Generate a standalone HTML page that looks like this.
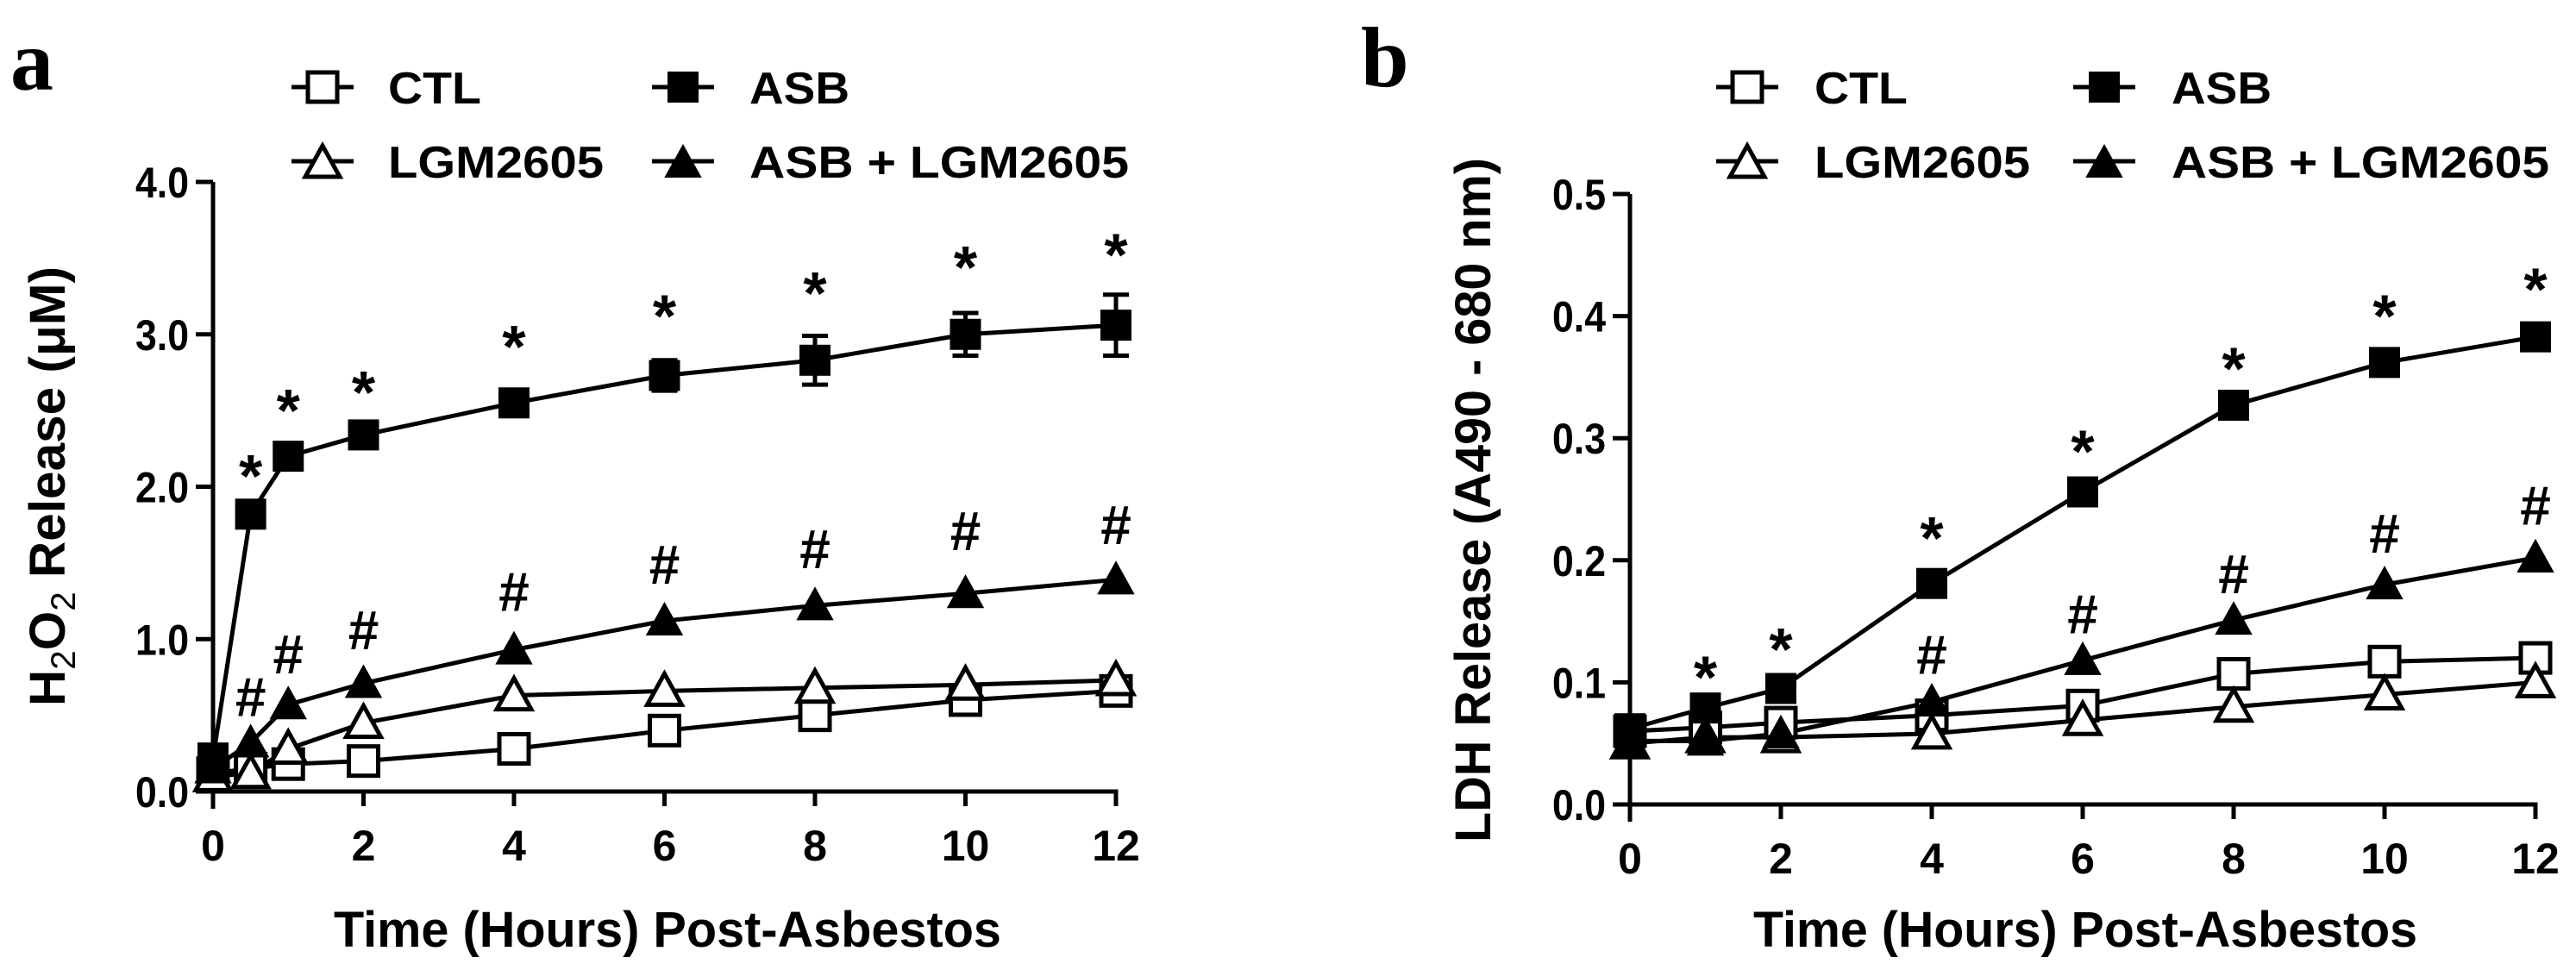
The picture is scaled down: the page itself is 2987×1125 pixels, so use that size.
<!DOCTYPE html>
<html><head><meta charset="utf-8"><style>
html,body{margin:0;padding:0;background:#fff;}
svg{display:block;font-family:"Liberation Sans",Arial,sans-serif;font-weight:bold;}
</style></head><body>
<svg id="chart" width="2987" height="1125" viewBox="0 0 2987 1125" xmlns="http://www.w3.org/2000/svg">
<rect width="2987" height="1125" fill="#fff"/>
<text x="12" y="104" font-family="Liberation Serif,serif" font-size="100" font-weight="bold">a</text>
<text x="1578" y="100" font-family="Liberation Serif,serif" font-size="100" font-weight="bold">b</text>
<g id="pa"></g>
<g id="pb"></g>
</svg>
<script>
const times = [0, 0.5, 1, 2, 4, 6, 8, 10, 12];
const aCTL = [0.12, 0.15, 0.18, 0.20, 0.28, 0.40, 0.50, 0.60, 0.66];
const aASB = [0.22, 1.82, 2.20, 2.34, 2.55, 2.73, 2.83, 3.00, 3.06];
const aASBerr = [0.05, 0.05, 0.05, 0.04, 0.06, 0.10, 0.16, 0.14, 0.20];
const aLGM = [0.10, 0.12, 0.28, 0.45, 0.63, 0.66, 0.68, 0.70, 0.73];
const aCombo = [0.15, 0.32, 0.57, 0.71, 0.93, 1.12, 1.22, 1.30, 1.39];
const aStarY = [null, 2.15, 2.58, 2.70, 3.00, 3.20, 3.35, 3.52, 3.60];
const aHashY = [null, 0.63, 0.91, 1.07, 1.32, 1.50, 1.60, 1.72, 1.76];
const aYTicks = [0, 1, 2, 3, 4];
const aYTickLabels = ["0.0", "1.0", "2.0", "3.0", "4.0"];
const xTicks = [0, 2, 4, 6, 8, 10, 12];
const timesB = [0, 1, 2, 4, 6, 8, 10, 12];
const bCTL = [0.060, 0.063, 0.067, 0.073, 0.081, 0.107, 0.117, 0.120];
const bASB = [0.062, 0.079, 0.095, 0.181, 0.256, 0.327, 0.362, 0.383];
const bLGM = [0.050, 0.055, 0.055, 0.058, 0.069, 0.080, 0.090, 0.100];
const bCombo = [0.052, 0.052, 0.058, 0.084, 0.118, 0.151, 0.180, 0.202];
const bStarY = [null, 0.114, 0.137, 0.228, 0.299, 0.367, 0.410, 0.432];
const bHashY = [null, null, null, 0.124, 0.157, 0.190, 0.223, 0.246];
const bYTicks = [0, 0.1, 0.2, 0.3, 0.4, 0.5];
const bYTickLabels = ["0.0", "0.1", "0.2", "0.3", "0.4", "0.5"];
const legendNames = ["CTL", "ASB", "LGM2605", "ASB + LGM2605"];

const NS = "http://www.w3.org/2000/svg";
function mk(parent, tag, attrs, text) {
  const e = document.createElementNS(NS, tag);
  for (const k in attrs) e.setAttribute(k, attrs[k]);
  if (text !== undefined) e.textContent = text;
  parent.appendChild(e);
  return e;
}
function marker(g, kind, cx, cy, name) {
  let el;
  const s = 17;
  if (kind === "sqo" || kind === "sqf") {
    el = mk(g, "rect", {x: cx - s, y: cy - s, width: 2 * s, height: 2 * s,
      fill: kind === "sqf" ? "#000" : "#fff", stroke: "#000", "stroke-width": kind === "sqf" ? 2 : 5});
  } else {
    const t = 20;
    el = mk(g, "polygon", {points: `${cx},${cy - t} ${cx - t},${cy + t * 0.8} ${cx + t},${cy + t * 0.8}`,
      fill: kind === "trf" ? "#000" : "#fff", stroke: "#000", "stroke-width": kind === "trf" ? 2 : 5, "stroke-linejoin": "miter"});
  }
  
  
}
function panel(gid, cfg) {
  const g = document.getElementById(gid);
  const X = v => cfg.x0 + (cfg.x1 - cfg.x0) * v / 12;
  const Y = v => cfg.y0 - (cfg.y0 - cfg.yTop) * v / cfg.yMax;
  const ax = mk(g, "path", {d: `M${X(0) - 20},${cfg.y0} H${X(12)} V${cfg.y0 + 17} M${X(0)},${Y(cfg.yMax)} V${cfg.y0 + 20}`, stroke: "#000", "stroke-width": 5, fill: "none"});
  
  
  cfg.yTicks.forEach((v, i) => {
    const t = mk(g, "line", {x1: X(0) - 20, x2: X(0), y1: Y(v), y2: Y(v), stroke: "#000", "stroke-width": 5});
    
    
    const l = mk(g, "text", {x: X(0) - 28, y: Y(v) + 18, "text-anchor": "end", "font-size": 50, textLength: 62, lengthAdjust: "spacingAndGlyphs"}, cfg.yLabels[i]);
    
    
  });
  xTicks.forEach(v => {
    if (v !== 12 && v !== 0) {
      const t = mk(g, "line", {x1: X(v), x2: X(v), y1: cfg.y0, y2: cfg.y0 + 17, stroke: "#000", "stroke-width": 5});
      
      
    }
    const l = mk(g, "text", {x: X(v), y: cfg.y0 + 80, "text-anchor": "middle", "font-size": 50}, String(v));
    
    
  });
  const xt = mk(g, "text", {x: cfg.xTitleX, y: 1098, "font-size": 58, textLength: cfg.xTitleW, lengthAdjust: "spacingAndGlyphs"}, "Time (Hours) Post-Asbestos");
  
  
  const yt = mk(g, "text", {x: 0, y: 0, "text-anchor": "middle", "font-size": 58, textLength: cfg.yTitleW, lengthAdjust: "spacingAndGlyphs", transform: `translate(${cfg.yTitleX},${cfg.yTitleY}) rotate(-90)`});
  if (cfg.h2o2) {
    yt.innerHTML = 'H<tspan font-size="40" font-weight="normal" dy="12">2</tspan><tspan dy="-12">O</tspan><tspan font-size="40" font-weight="normal" dy="12">2</tspan><tspan dy="-12"> Release (μM)</tspan>';
  } else {
    yt.textContent = "LDH Release (A490 - 680 nm)";
  }
  
  
  cfg.series.forEach(s => {
    const d = s.vals.map((v, i) => (i ? "L" : "M") + X(cfg.t[i]) + "," + Y(v)).join(" ");
    const p = mk(g, "path", {d: d, fill: "none", stroke: "#000", "stroke-width": 5});
    
    
    if (s.err) {
      s.vals.forEach((v, i) => {
        const e = s.err[i], x = X(cfg.t[i]);
        const eb = mk(g, "path", {d: `M${x},${Y(v + e)} V${Y(v - e)} M${x - 15},${Y(v + e)} H${x + 15} M${x - 15},${Y(v - e)} H${x + 15}`, stroke: "#000", "stroke-width": 5, fill: "none"});
        
        
      });
    }
  });
  cfg.series.forEach(s => {
    s.vals.forEach((v, i) => marker(g, s.kind, X(cfg.t[i]), Y(v), s.name + '-point'));
  });
  cfg.stars.forEach((v, i) => {
    if (v === null) return;
    const t = mk(g, "text", {x: X(cfg.t[i]), y: Y(v) + 38, "text-anchor": "middle", "font-size": 70}, "*");
    
    
  });
  cfg.hashes.forEach((v, i) => {
    if (v === null) return;
    const t = mk(g, "text", {x: X(cfg.t[i]), y: Y(v) + 24, "text-anchor": "middle", "font-size": 64}, "#");
    
    
  });
  const kinds = ["sqo", "sqf", "tro", "trf"];
  legendNames.forEach((n, i) => {
    const col = i % 2, row = Math.floor(i / 2);
    const lx = cfg.legX[col], ly = 101 + row * 86;
    const lg = mk(g, "g", {});
    
    
    mk(lg, "line", {x1: lx, x2: lx + 72, y1: ly, y2: ly, stroke: "#000", "stroke-width": 5});
    marker(lg, kinds[i], lx + 36, ly + (i >= 2 ? 2 : 0), 'legend-marker');
    mk(lg, "text", {x: cfg.legT[col], y: ly + 19, "font-size": 52, textLength: cfg.legW[i], lengthAdjust: "spacingAndGlyphs"}, n);
  });
}
panel("pa", {x0: 247, x1: 1294, y0: 918, yTop: 211, yMax: 4, t: times,
  yTicks: aYTicks, yLabels: aYTickLabels, h2o2: true,
  xTitleX: 387, xTitleW: 774, yTitleX: 75, yTitleY: 564, yTitleW: 510,
  series: [{name: "ctl", kind: "sqo", vals: aCTL}, {name: "lgm2605", kind: "tro", vals: aLGM},
           {name: "asb-lgm2605", kind: "trf", vals: aCombo}, {name: "asb", kind: "sqf", vals: aASB, err: aASBerr}],
  stars: aStarY, hashes: aHashY,
  legX: [338, 756], legT: [450, 869], legW: [108, 116, 250, 440]});
panel("pb", {x0: 1890, x1: 2940, y0: 933, yTop: 225, yMax: 0.5, t: timesB,
  yTicks: bYTicks, yLabels: bYTickLabels, h2o2: false,
  xTitleX: 2033, xTitleW: 770, yTitleX: 1728, yTitleY: 580, yTitleW: 794,
  series: [{name: "ctl", kind: "sqo", vals: bCTL}, {name: "lgm2605", kind: "tro", vals: bLGM},
           {name: "asb-lgm2605", kind: "trf", vals: bCombo}, {name: "asb", kind: "sqf", vals: bASB}],
  stars: bStarY, hashes: bHashY,
  legX: [1990, 2404], legT: [2104, 2518], legW: [108, 116, 250, 438]});
</script>
</body></html>
